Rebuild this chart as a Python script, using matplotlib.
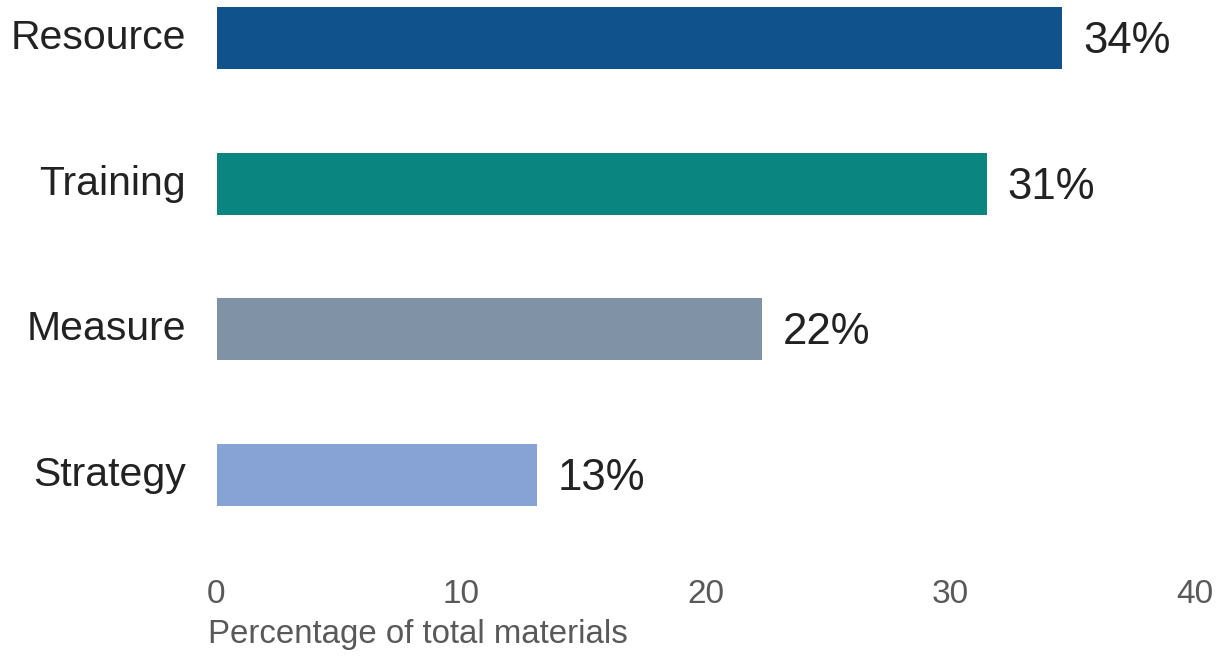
import matplotlib.pyplot as plt
import matplotlib.transforms as mtransforms

# Données
categories = ['Resource', 'Training', 'Measure', 'Strategy']
valeurs = [34.6, 31.5, 22.3, 13.1]
etiquettes = ['34%', '31%', '22%', '13%']
couleurs = ['#10538C', '#0B8580', '#7F92A6', '#87A3D6']
ticks_x = [0, 10, 20, 30, 40]

plt.rcParams['font.family'] = ['Liberation Sans', 'DejaVu Sans']

W, H = 1221, 656
fig = plt.figure(figsize=(W / 100, H / 100), dpi=100)
fig.set_facecolor('white')

# Axe positionné en pixels : x=0 à 216.5 px, x=40 à 1194.5 px
ax = fig.add_axes([216.5 / W, 1 - 550 / H, 978 / W, 550 / H])

positions = list(range(len(categories)))
bars = ax.barh(positions, valeurs, height=0.425, color=couleurs)

ax.set_xlim(0, 40)
ax.set_ylim(3.514, -0.261)
ax.set_xticks(ticks_x)
ax.set_xticklabels([str(t) for t in ticks_x])
ax.set_yticks(positions)
ax.set_yticklabels(categories)

ax.tick_params(axis='x', length=0, pad=21, labelsize=24, labelcolor='#595959')
ax.tick_params(axis='y', length=0, pad=22, labelsize=29.5, labelcolor='#222222')

# Petit décalage vers le haut des noms de catégories
decalage = mtransforms.ScaledTranslation(0, 3 / 72, fig.dpi_scale_trans)
for lab in ax.get_yticklabels():
    lab.set_transform(lab.get_transform() + decalage)

for s in ax.spines.values():
    s.set_visible(False)

# Valeurs à droite des barres
for bar, txt in zip(bars, etiquettes):
    ax.annotate(txt, (bar.get_width(), bar.get_y() + bar.get_height() / 2),
                xytext=(15, -2.5), textcoords='offset points',
                ha='left', va='center', fontsize=31.5, color='#222222')

fig.text(208 / W, (H - 643) / H, 'Percentage of total materials',
         ha='left', va='baseline', fontsize=23.8, color='#595959')

fig.savefig('out.png', dpi=100)
